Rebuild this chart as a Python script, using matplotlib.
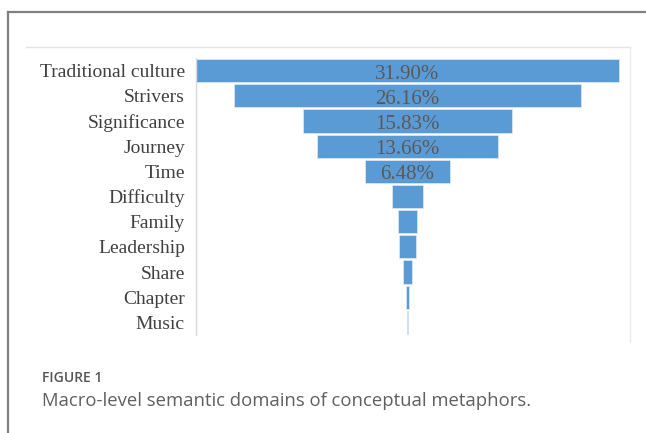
import matplotlib
matplotlib.use("Agg")
import matplotlib.pyplot as plt
from matplotlib.lines import Line2D

domains = ["Traditional culture", "Strivers", "Significance", "Journey", "Time",
           "Difficulty", "Family", "Leadership", "Share", "Chapter", "Music"]
shares = [31.90, 26.16, 15.83, 13.66, 6.48, 2.34, 1.37, 1.22, 0.65, 0.29, 0.10]
labelled = [True, True, True, True, True, False, False, False, False, False, False]

W, H = 646, 433
fig = plt.figure(figsize=(W / 100, H / 100), dpi=100)
fig.patch.set_facecolor("white")


def px(x0, y0, x1, y1):
    # pixel box (top-left origin) -> figure fraction rect
    return [x0 / W, 1 - y1 / H, (x1 - x0) / W, (y1 - y0) / H]


# outer panel frame
fig.add_artist(Line2D([8 / W, 8 / W], [0, 1 - 12 / H], color="#808080", lw=1.6))
fig.add_artist(Line2D([8 / W, 1], [1 - 12 / H, 1 - 12 / H], color="#808080", lw=1.6))
# chart area border (top / right)
fig.add_artist(Line2D([26 / W, 630 / W], [1 - 47 / H, 1 - 47 / H], color="#e4e4e4", lw=1.0))
fig.add_artist(Line2D([630 / W, 630 / W], [1 - 342 / H, 1 - 47 / H], color="#ececec", lw=1.0))

ax = fig.add_axes(px(196, 58, 630, 335))
top = shares[0]
n = len(domains)
ys = list(range(n))
lefts = [(top - v) / 2 for v in shares]
ax.barh(ys, shares, left=lefts, height=0.92, color="#5b9bd5",
        edgecolor="#d9e6f3", linewidth=0.6)
for y, v, show in zip(ys, shares, labelled):
    if show:
        ax.text(top / 2, y + 0.04, f"{v:.2f}%", ha="center", va="center_baseline",
                fontsize=15, color="#595959", family="Liberation Serif")

ax.set_xlim(0, 434 / (423 / top))
ax.set_ylim(n - 0.5, -0.5)
ax.set_yticks(ys)
ax.set_yticklabels(domains, fontsize=14, color="#404040", family="Liberation Serif")
ax.tick_params(axis="y", length=0, pad=8)
ax.set_xticks([])
for s in ["top", "right", "bottom"]:
    ax.spines[s].set_visible(False)
ax.spines["left"].set_color("#d9d9d9")
ax.spines["left"].set_linewidth(1.0)

fig.text(42 / W, 1 - 378 / H, "FIGURE 1", fontsize=10, color="#555555",
         family="Open Sans", fontweight="semibold", va="center")
fig.text(42 / W, 1 - 401 / H, "Macro-level semantic domains of conceptual metaphors.",
         fontsize=13.3, color="#606060", family="Open Sans", va="center")

fig.savefig("out.png", dpi=100, facecolor="white")
